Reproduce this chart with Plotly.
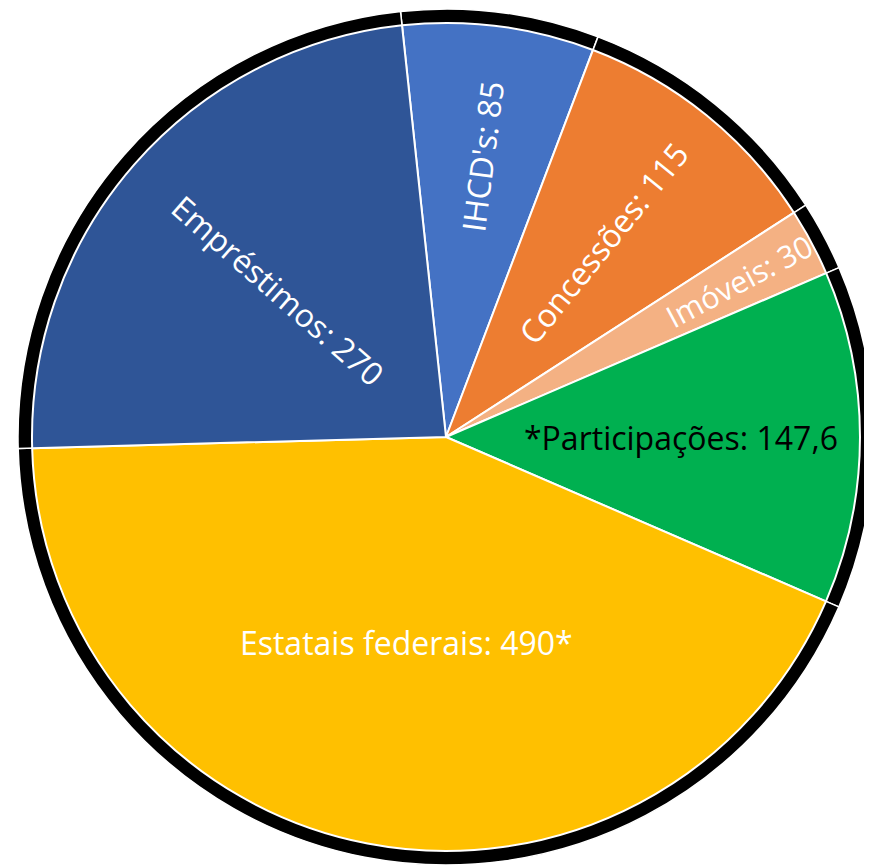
import plotly.graph_objects as go

labels = ["IHCD's", "Concessões", "Imóveis", "*Participações", "Estatais federais", "Empréstimos"]
values = [85, 115, 30, 147.6, 490, 270]
value_text = ["85", "115", "30", "147,6", "490*", "270"]
colors = ["#4472C4", "#ED7D31", "#F4B183", "#00B050", "#FFC000", "#2F5597"]
text_colors = ["white", "white", "white", "black", "white", "white"]
horizontal_labels = {"*Participações", "Estatais federais"}

texts = [f"{l}: {v}" for l, v in zip(labels, value_text)]
radial_text = [t if l not in horizontal_labels else "" for t, l in zip(texts, labels)]
horiz_text = [t if l in horizontal_labels else "" for t, l in zip(texts, labels)]

W, H = 872, 865
# page body has an 8px margin, so position relative to the plot area
cx, cy_top, r, r_out = 438, 429, 414, 428
cy = H - cy_top
dom = dict(x=[(cx - r) / W, (cx + r) / W], y=[(cy - r) / H, (cy + r) / H])
dom_out = dict(x=[(cx - r_out) / W, min(1, (cx + r_out) / W)],
               y=[(cy - r_out) / H, (cy + r_out) / H])

rot = -6.1
font = "Open Sans"
fsize = 32

fig = go.Figure()
# black outer ring (shadow)
fig.add_trace(go.Pie(
    labels=labels, values=values, sort=False, direction="clockwise", rotation=rot,
    domain=dom_out, marker=dict(colors=["black"] * len(values), line=dict(color="white", width=1.5)),
    textinfo="none", hoverinfo="skip", showlegend=False,
))
# main pie with radial labels
fig.add_trace(go.Pie(
    labels=labels, values=values, sort=False, direction="clockwise", rotation=rot,
    domain=dom, marker=dict(colors=colors, line=dict(color="white", width=2)),
    text=radial_text, textinfo="text", textposition="inside",
    insidetextorientation="radial",
    textfont=dict(family=font, size=fsize, color=text_colors),
    hoverinfo="label+value", showlegend=False,
))
# transparent overlay for horizontal labels
fig.add_trace(go.Pie(
    labels=labels, values=values, sort=False, direction="clockwise", rotation=rot,
    domain=dom, marker=dict(colors=["rgba(0,0,0,0)"] * len(values), line=dict(width=0)),
    text=horiz_text, textinfo="text", textposition="inside",
    insidetextorientation="horizontal",
    textfont=dict(family=font, size=fsize, color=text_colors),
    hoverinfo="skip", showlegend=False,
))

fig.update_layout(
    width=W, height=H, margin=dict(l=0, r=0, t=0, b=0),
    paper_bgcolor="white", plot_bgcolor="white",
    font=dict(family=font), showlegend=False,
)

fig.write_html("out.html")
